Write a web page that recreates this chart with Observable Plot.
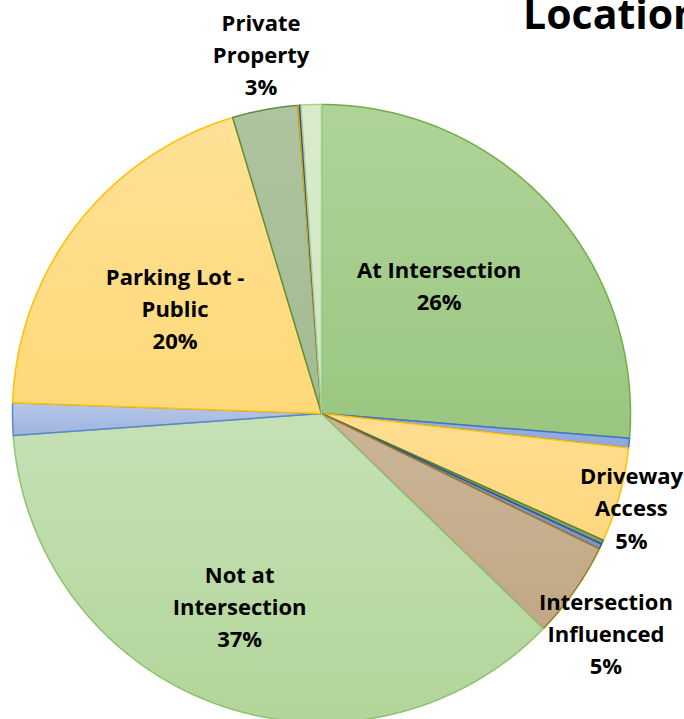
<!DOCTYPE html>
<html><head><meta charset="utf-8">
<script src="https://cdn.jsdelivr.net/npm/d3@7"></script>
<script src="https://cdn.jsdelivr.net/npm/@observablehq/plot@0.6"></script>
<style>
html,body{margin:0;padding:0;background:#fff;overflow:hidden;width:684px;height:719px}
#wrap{position:relative;width:684px;height:719px;overflow:hidden}
#wrap svg{position:absolute;left:0;top:0}
#title{position:absolute;left:523px;top:-7px;font-family:"Open Sans";font-weight:700;font-size:41px;line-height:41px;white-space:nowrap;color:#000;z-index:2}
</style></head><body>
<div id="wrap"><div id="title">Location</div></div>
<script>
// ---- data (percent of crashes by location) ----
const categories = [
  "At Intersection", "Other A", "Driveway Access", "Other B", "Other C",
  "Intersection Influenced", "Not at Intersection", "Other D",
  "Parking Lot - Public", "Private Property", "Other E", "Other F", "Other G"
];
const shares = [26.28, 0.50, 4.94, 0.22, 0.28, 5.03, 36.61, 1.69, 19.81, 3.42, 0.08, 0.08, 1.06];
const labelNames = ["At Intersection", "", "Driveway\nAccess", "", "", "Intersection\nInfluenced",
  "Not at\nIntersection", "", "Parking Lot -\nPublic", "Private\nProperty", "", "", ""];
const labelPercents = ["26%", "", "5%", "", "", "5%", "37%", "", "20%", "3%", "", "", ""];

// ---- styles ----
const fillTop    = ["#AFD398","#9DB2E2","#FFDE91","#8CAD78","#8A9DC4","#CBB597","#C6E1B5","#B6C7E7","#FFE196","#AEC4A0","#FFC000","#4472C4","#D8EACB"];
const fillBottom = ["#9AC680","#8EA6DC","#FFD77F","#7FA06A","#7F93BC","#C1A886","#B2D59A","#9EB3DF","#FFD978","#A3BA93","#FFC000","#4472C4","#D0E6C2"];
const strokes    = ["#70AD47","#4472C4","#FFC000","#548235","#2F5597","#A07B1E","#8FC16F","#5B85CF","#FFC000","#5F8F3A","#E6A800","#2F5597","#A9D18E"];
// label placement: radius factor (of pie radius) and pixel nudges
const labelLayout = {
  0: {r: 0.562, dx: -10, dy: -12},
  2: {r: 1.05,  dx: -3,  dy: 7},
  5: {r: 1.168, dx: -11, dy: 11},
  6: {r: 0.68,  dx: -10, dy: -6},
  8: {r: 0.578, dx: -5,  dy: 2},
  9: {r: 1.175, dx: 6,   dy: -4}
};

const W = 684, H = 719, R = 309, cx = 321, cy = 413;

const rows = categories.map((c, i) => ({key: i, name: c, value: shares[i]}));
const arcs = d3.pie().sort(null).value(d => d.value)(rows);

const pts = [];
arcs.forEach((a, i) => {
  const n = Math.max(2, Math.ceil((a.endAngle - a.startAngle) / 0.004));
  pts.push({k: i, x: 0, y: 0});
  for (let j = 0; j <= n; j++) {
    const t = a.startAngle + (a.endAngle - a.startAngle) * j / n;
    pts.push({k: i, x: Math.sin(t), y: Math.cos(t)});
  }
  pts.push({k: i, x: 0, y: 0});
});

const labels = [];
arcs.forEach((a, i) => {
  if (!labelPercents[i]) return;
  const L = labelLayout[i];
  const m = (a.startAngle + a.endAngle) / 2;
  labels.push({
    x: L.r * Math.sin(m) + L.dx / R,
    y: L.r * Math.cos(m) - L.dy / R,
    text: labelNames[i] + "\n" + labelPercents[i]
  });
});

const svg = Plot.plot({
  width: W, height: H,
  margin: 0,
  x: {domain: [-cx / R, (W - cx) / R], range: [0, W], axis: null},
  y: {domain: [-(H - cy) / R, cy / R], range: [H, 0], axis: null},
  color: {type: "identity"},
  style: {fontFamily: "Open Sans", background: "transparent", overflow: "hidden"},
  marks: [
    Plot.line(pts, {
      x: "x", y: "y", z: "k",
      fill: d => `url(#grad${d.k})`,
      stroke: d => strokes[d.k],
      strokeWidth: 1.5, strokeLinejoin: "round", curve: "linear"
    }),
    Plot.text(labels, {
      x: "x", y: "y", text: "text",
      fontSize: 22, fontWeight: "bold", fill: "#000",
      lineHeight: 1.46, textAnchor: "middle", lineAnchor: "middle"
    })
  ]
});

const defs = d3.select(svg).insert("defs", ":first-child");
fillTop.forEach((c, i) => {
  const g = defs.append("linearGradient").attr("id", `grad${i}`)
    .attr("x1", 0).attr("y1", 0).attr("x2", 0).attr("y2", 1);
  g.append("stop").attr("offset", "0%").attr("stop-color", c);
  g.append("stop").attr("offset", "100%").attr("stop-color", fillBottom[i]);
});

document.getElementById("wrap").prepend(svg);
</script>
</body></html>
